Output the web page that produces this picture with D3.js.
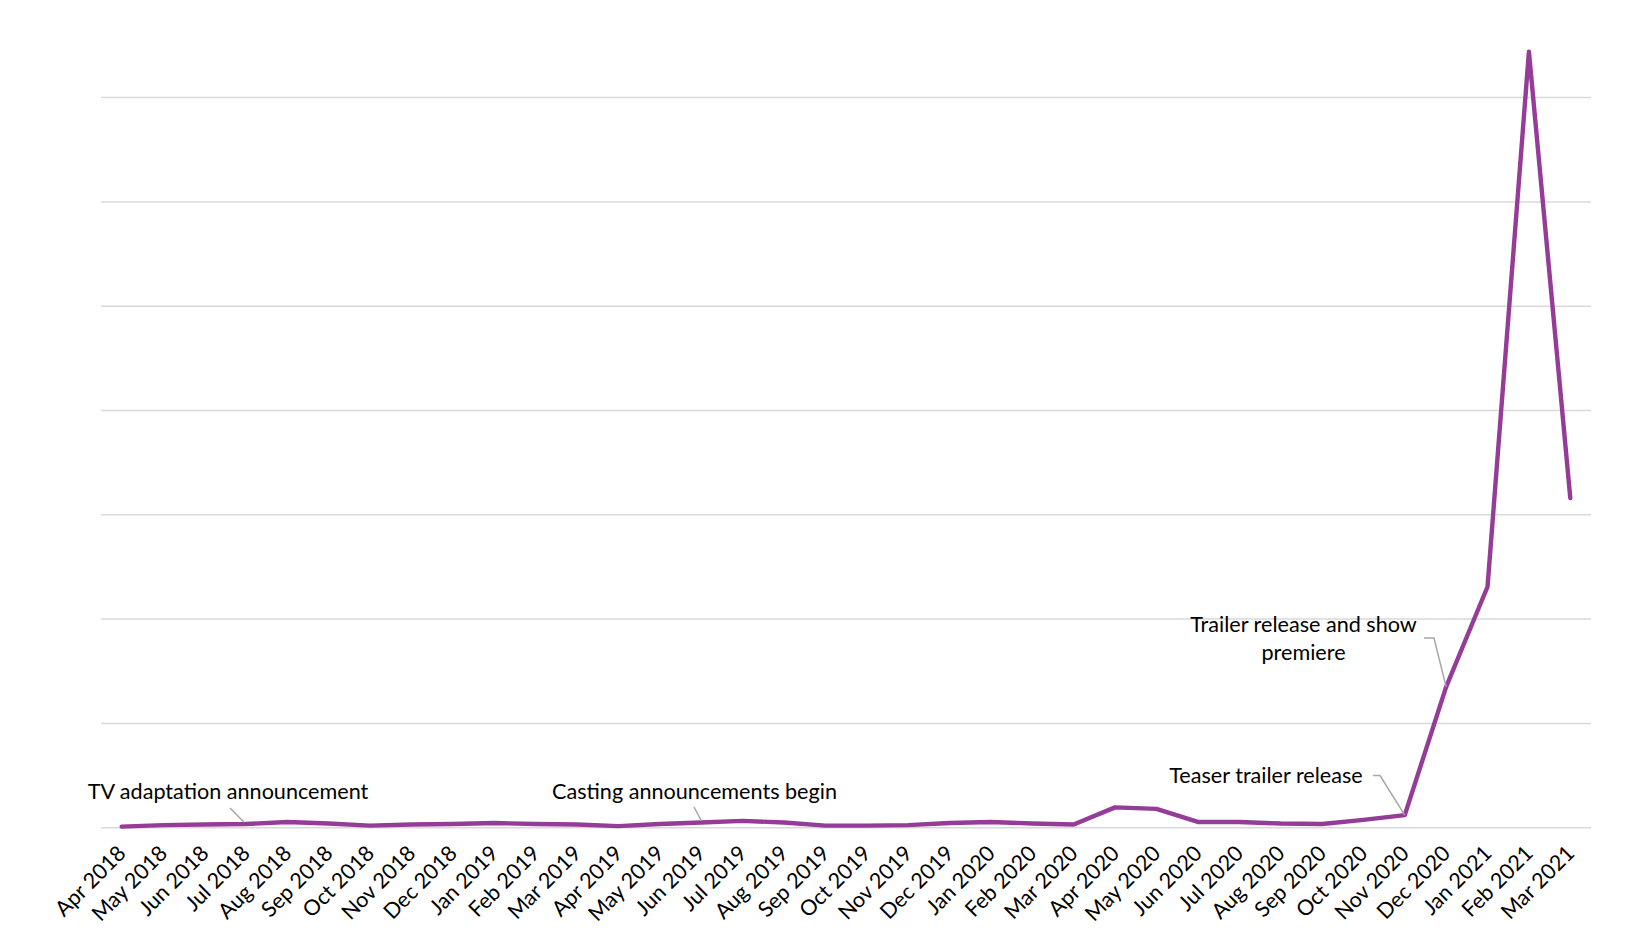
<!DOCTYPE html>
<html>
<head>
<meta charset="utf-8">
<script src="https://cdn.jsdelivr.net/npm/d3@7"></script>
<style>
  html, body { margin: 0; padding: 0; background: #fff; }
  svg { display: block; }
  text { font-family: Lato, "Open Sans", sans-serif; fill: #000; }
</style>
</head>
<body>
<svg id="chart" width="1645" height="941"></svg>
<script>
// ---- data ----
const months = [
  "Apr 2018","May 2018","Jun 2018","Jul 2018","Aug 2018","Sep 2018","Oct 2018","Nov 2018","Dec 2018",
  "Jan 2019","Feb 2019","Mar 2019","Apr 2019","May 2019","Jun 2019","Jul 2019","Aug 2019","Sep 2019",
  "Oct 2019","Nov 2019","Dec 2019","Jan 2020","Feb 2020","Mar 2020","Apr 2020","May 2020","Jun 2020",
  "Jul 2020","Aug 2020","Sep 2020","Oct 2020","Nov 2020","Dec 2020","Jan 2021","Feb 2021","Mar 2021"
];
const interest = [
  1, 2.5, 3, 3.5, 5.5, 4, 2, 3, 3.5,
  4.5, 3.5, 3, 1.5, 3.5, 5, 6.5, 5, 2,
  2, 2.5, 4.5, 5.5, 4, 3, 19.5, 18, 5.5,
  5.5, 4, 3.5, 7.5, 12, 135, 231, 744, 316
];
const gridTicks = [0, 100, 200, 300, 400, 500, 600, 700];
const annotationText = [
  ["TV adaptation announcement"],
  ["Casting announcements begin"],
  ["Teaser trailer release"],
  ["Trailer release and show", "premiere"]
];
const annotationMonth = ["Jul 2018", "Jun 2019", "Nov 2020", "Dec 2020"];

// ---- layout ----
const svg = d3.select("#chart");
const plotLeft = 101, plotRight = 1591, plotTop = 97.6, plotBottom = 827.7;

const x = d3.scalePoint().domain(months).range([plotLeft, plotRight]).padding(0.5);
const y = d3.scaleLinear().domain([0, 700]).range([plotBottom, plotTop]);

// gridlines
svg.append("g").selectAll("line").data(gridTicks).join("line")
  .attr("x1", plotLeft).attr("x2", plotRight)
  .attr("y1", d => y(d)).attr("y2", d => y(d))
  .attr("stroke", "#d9d9d9").attr("stroke-width", 1.5);

// x axis labels
const xAxis = d3.axisBottom(x).tickSize(0).tickPadding(0);
const gx = svg.append("g").attr("transform", `translate(0,${plotBottom})`).call(xAxis);
gx.select(".domain").remove();
gx.selectAll(".tick text")
  .attr("font-size", 21.5)
  .attr("font-family", "Lato, 'Open Sans', sans-serif")
  .attr("fill", "#000")
  .attr("text-anchor", "end")
  .attr("dy", 0)
  .attr("y", 0)
  .attr("transform", "translate(5,27) rotate(-45)");

// line
const line = d3.line().x((d, i) => x(months[i])).y(d => y(d));
svg.append("path").datum(interest)
  .attr("d", line)
  .attr("fill", "none")
  .attr("stroke", "#953b98")
  .attr("stroke-width", 4.4)
  .attr("stroke-linejoin", "round")
  .attr("stroke-linecap", "round");

// annotations
const ptX = m => x(m);
const ptY = m => y(interest[months.indexOf(m)]);
const leader = (pts) => svg.append("polyline")
  .attr("points", pts.map(p => p.join(",")).join(" "))
  .attr("fill", "none").attr("stroke", "#a6a6a6").attr("stroke-width", 1.5);

const annPos = [
  {cx: 228, by: 799, lead: m => [[230, 808], [ptX(m) - 2, ptY(m) - 2]]},
  {cx: 694.5, by: 799, lead: m => [[694, 807], [ptX(m), ptY(m) - 2]]},
  {cx: 1266, by: 782.5, lead: m => [[1373, 775.5], [1380, 775.5], [ptX(m), ptY(m)]]},
  {cx: 1303.5, by: 632, lead: m => [[1424, 638], [1434, 638], [ptX(m), ptY(m)]]}
];

annotationText.forEach((lines, i) => {
  const p = annPos[i];
  const m = annotationMonth[i];
  leader(p.lead(m));
  const t = svg.append("text")
    .attr("x", p.cx).attr("y", p.by)
    .attr("text-anchor", "middle")
    .attr("font-size", 21.6);
  lines.forEach((s, j) => {
    t.append("tspan").attr("x", p.cx).attr("y", p.by + j * 28).text(s);
  });
});
</script>
</body>
</html>
